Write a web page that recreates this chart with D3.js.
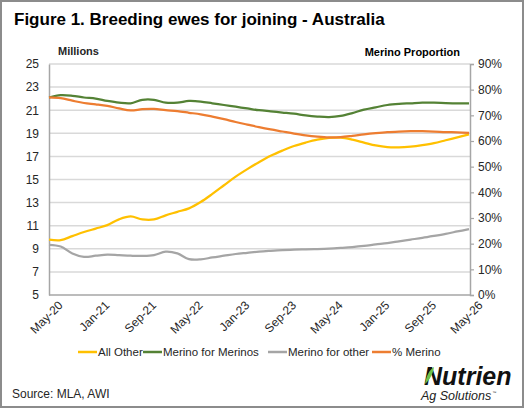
<!DOCTYPE html>
<html>
<head>
<meta charset="utf-8">
<script src="https://cdn.jsdelivr.net/npm/d3@7"></script>
<style>
  body { margin: 0; background: #fff; }
  svg { display: block; font-family: Arial, "Liberation Sans", sans-serif; }
</style>
</head>
<body>
<div id="chart"></div>
<script>
// categories, every 2 months
var months = ["May-20","Jul-20","Sep-20","Nov-20","Jan-21","Mar-21","May-21","Jul-21","Sep-21","Nov-21",
  "Jan-22","Mar-22","May-22","Jul-22","Sep-22","Nov-22","Jan-23","Mar-23","May-23","Jul-23",
  "Sep-23","Nov-23","Jan-24","Mar-24","May-24","Jul-24","Sep-24","Nov-24","Jan-25","Mar-25",
  "May-25","Jul-25","Sep-25","Nov-25","Jan-26","Mar-26","May-26"];

// millions
var allOther = [9.8,9.75,10.1,10.45,10.75,11.05,11.55,11.8,11.55,11.55,
  11.9,12.2,12.5,13.05,13.75,14.5,15.25,15.9,16.5,17.05,
  17.5,17.9,18.2,18.45,18.6,18.62,18.45,18.2,17.95,17.8,
  17.78,17.85,17.98,18.15,18.4,18.65,18.9];
var merinoForMerinos = [22.1,22.3,22.25,22.1,22.0,21.8,21.65,21.6,21.9,21.9,
  21.65,21.65,21.8,21.75,21.6,21.45,21.3,21.15,21.0,20.9,
  20.8,20.7,20.55,20.45,20.4,20.5,20.75,21.05,21.25,21.45,
  21.55,21.6,21.65,21.65,21.62,21.6,21.6];
var merinoForOther = [9.35,9.2,8.6,8.3,8.4,8.5,8.45,8.4,8.38,8.45,
  8.75,8.6,8.1,8.08,8.25,8.4,8.55,8.65,8.75,8.82,
  8.88,8.92,8.95,8.98,9.02,9.08,9.15,9.25,9.38,9.5,
  9.65,9.8,9.95,10.12,10.3,10.5,10.7];
// share, right axis
var pctMerino = [0.770,0.767,0.757,0.748,0.743,0.737,0.727,0.719,0.724,0.725,
  0.720,0.716,0.710,0.704,0.695,0.685,0.674,0.664,0.654,0.645,
  0.637,0.629,0.622,0.617,0.614,0.615,0.620,0.626,0.631,0.635,
  0.637,0.638,0.638,0.637,0.635,0.634,0.632];

var leftTicks = [5,7,9,11,13,15,17,19,21,23,25];
var rightTicks = [0,0.1,0.2,0.3,0.4,0.5,0.6,0.7,0.8,0.9];

var series = [
  {name: "All Other", values: allOther, colour: "#FFC000", axis: "left"},
  {name: "Merino for Merinos", values: merinoForMerinos, colour: "#548235", axis: "left"},
  {name: "Merino for other", values: merinoForOther, colour: "#A5A5A5", axis: "left"},
  {name: "% Merino", values: pctMerino, colour: "#ED7D31", axis: "right"}
];

var W = 524, H = 408,
    plot_l = 49, plot_r = 470, plot_t = 64, plot_b = 295;

var svg = d3.select('#chart').append('svg')
  .attr('width', W)
  .attr('height', H);

svg.append('rect')
  .attr('x', 1).attr('y', 1)
  .attr('width', W - 2).attr('height', H - 2)
  .attr('fill', '#fff')
  .attr('stroke', '#8c8c8c')
  .attr('stroke-width', 2);

svg.append('text')
  .attr('x', 14).attr('y', 25)
  .attr('font-size', 17).attr('font-weight', 'bold')
  .attr('fill', '#000')
  .text('Figure 1. Breeding ewes for joining - Australia');

var x = d3.scalePoint().domain(months).range([plot_l, plot_r - 1]);
var yL = d3.scaleLinear().domain([5, 25]).range([plot_b, plot_t]);
var yR = d3.scaleLinear().domain([0, 0.9]).range([plot_b, plot_t]);

// gridlines
svg.append('g').selectAll('line')
  .data(leftTicks.slice(1))
  .join('line')
  .attr('x1', plot_l).attr('x2', plot_r)
  .attr('y1', d => yL(d)).attr('y2', d => yL(d))
  .attr('stroke', '#D9D9D9').attr('stroke-width', 1.5);

// left axis
var leftAxis = svg.append('g')
  .attr('transform', 'translate(' + plot_l + ',0)')
  .call(d3.axisLeft(yL).tickValues(leftTicks).tickSize(0).tickPadding(10));
leftAxis.select('.domain').attr('stroke', '#A6A6A6').attr('stroke-width', 1.5);
leftAxis.selectAll('text').attr('font-size', 12).attr('fill', '#262626')
  .attr('font-family', 'Arial, "Liberation Sans", sans-serif');

// right axis
var rightAxis = svg.append('g')
  .attr('transform', 'translate(' + plot_r + ',0)')
  .call(d3.axisRight(yR).tickValues(rightTicks).tickSize(4).tickPadding(4).tickFormat(d3.format('.0%')));
rightAxis.select('.domain').attr('stroke', '#A6A6A6').attr('stroke-width', 1.5);
rightAxis.selectAll('line').attr('stroke', '#A6A6A6').attr('stroke-width', 1.2);
rightAxis.selectAll('text').attr('font-size', 12).attr('fill', '#262626')
  .attr('font-family', 'Arial, "Liberation Sans", sans-serif');

// bottom axis
var bottomAxis = svg.append('g')
  .attr('transform', 'translate(0,' + plot_b + ')')
  .call(d3.axisBottom(x).tickValues(months.filter((d, i) => i % 4 == 0)).tickSize(0).tickSizeOuter(0));
bottomAxis.select('.domain').attr('d', 'M' + plot_l + ',0H' + plot_r)
  .attr('stroke', '#A6A6A6').attr('stroke-width', 1.5);
bottomAxis.selectAll('text')
  .attr('font-size', 12).attr('fill', '#262626')
  .attr('font-family', 'Arial, "Liberation Sans", sans-serif')
  .attr('text-anchor', 'end')
  .attr('dy', '0.35em')
  .attr('transform', 'translate(9,6) rotate(-45)');

// axis titles
svg.append('text')
  .attr('x', 58).attr('y', 55)
  .attr('font-size', 11).attr('font-weight', 'bold').attr('fill', '#262626')
  .text('Millions');
svg.append('text')
  .attr('x', 460).attr('y', 56)
  .attr('text-anchor', 'end')
  .attr('font-size', 11).attr('font-weight', 'bold').attr('fill', '#000')
  .text('Merino Proportion');

// lines
series.forEach(function(s) {
  var y = s.axis == 'left' ? yL : yR;
  var line = d3.line()
    .x((d, i) => x(months[i]))
    .y(d => y(d))
    .curve(d3.curveCatmullRom.alpha(0.5));
  svg.append('path')
    .datum(s.values)
    .attr('fill', 'none')
    .attr('stroke', s.colour)
    .attr('stroke-width', 2.25)
    .attr('stroke-linejoin', 'round')
    .attr('d', line);
});

// legend
var legend_x = [78, 143, 268, 372];
var legend = svg.append('g').selectAll('g')
  .data(series)
  .join('g')
  .attr('transform', (d, i) => 'translate(' + legend_x[i] + ',352)');
legend.append('line')
  .attr('x1', 0).attr('x2', 19)
  .attr('stroke', d => d.colour).attr('stroke-width', 2.5);
legend.append('text')
  .attr('x', 20).attr('y', 4)
  .attr('font-size', 11.5).attr('fill', '#262626')
  .text(d => d.name);

svg.append('text')
  .attr('x', 12).attr('y', 398)
  .attr('font-size', 12).attr('fill', '#262626')
  .text('Source: MLA, AWI');

// logo
var logo = svg.append('g').attr('transform', 'translate(424,385)');
logo.append('text')
  .attr('x', 0).attr('y', 0)
  .attr('font-size', 25).attr('font-weight', 'bold').attr('font-style', 'italic')
  .attr('fill', '#111')
  .text('Nutrien');
logo.append('path')
  .attr('d', 'M1,-1 C2,-8 5,-15 10,-18 C9,-12 6,-5 1,-1 Z')
  .attr('fill', '#6cc04a');
var ag = logo.append('text')
  .attr('x', -3).attr('y', 15)
  .attr('font-size', 12.5).attr('font-style', 'italic')
  .attr('fill', '#222')
  .text('Ag Solutions');
logo.append('text')
  .attr('x', -3 + ag.node().getComputedTextLength() + 1).attr('y', 9)
  .attr('font-size', 4).attr('fill', '#222')
  .text('™');
</script>
</body>
</html>
